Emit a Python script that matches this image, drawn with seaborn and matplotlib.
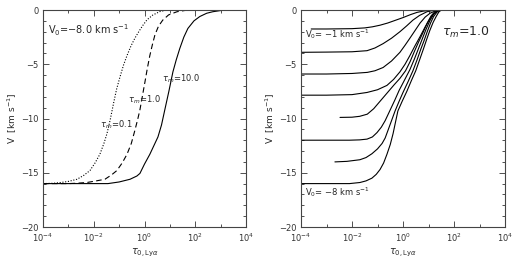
import numpy as np
import pandas as pd
import seaborn as sns
import matplotlib
matplotlib.use('Agg')
import matplotlib.pyplot as plt
from matplotlib import ticker

# LEFT PANEL: V0 = -8 km/s, THREE VALUES OF TAU_M (log10 tau, V)
logt_tm01 = [-4, -3.6, -3.3, -3.0, -2.66, -2.4, -2.15, -1.95, -1.76, -1.6, -1.48, -1.35, -1.22, -1.1,
             -0.97, -0.83, -0.69, -0.53, -0.38, -0.2, -0.06, 0.1, 0.33, 0.6, 0.88, 4]
v_tm01 = [-16.0, -15.97, -15.9, -15.8, -15.6, -15.25, -14.8, -14.1, -13.3, -12.3, -11.4, -10.1, -8.6, -7.3,
          -6.2, -5.1, -4.2, -3.3, -2.6, -1.9, -1.4, -0.9, -0.46, -0.15, 0.0, 0.0]

logt_tm1 = [-4, -3, -2.7, -2.27, -1.9, -1.56, -1.3, -1.09, -0.88, -0.69, -0.52, -0.38, -0.27, -0.18,
            -0.08, 0.02, 0.11, 0.21, 0.31, 0.41, 0.55, 0.72, 0.95, 1.28, 1.6, 1.9, 4]
v_tm1 = [-16.0, -16.0, -15.97, -15.9, -15.75, -15.6, -15.2, -14.8, -14.1, -13.3, -12.3, -11.1, -10.1, -9.2,
         -7.9, -6.6, -5.4, -4.2, -3.2, -2.3, -1.5, -0.93, -0.45, -0.16, -0.04, 0.0, 0.0]

logt_tm10 = [-4, -2, -1.44, -1.0, -0.57, -0.3, -0.18, 0.0, 0.21, 0.37, 0.53, 0.67, 0.8, 0.96, 1.12,
             1.25, 1.39, 1.55, 1.71, 1.95, 2.18, 2.45, 2.69, 3.0, 3.24, 4]
v_tm10 = [-16.0, -16.0, -16.0, -15.85, -15.6, -15.3, -15.06, -14.2, -13.3, -12.5, -11.7, -10.6, -9.2, -7.5, -5.7,
          -4.6, -3.55, -2.5, -1.7, -1.0, -0.6, -0.3, -0.16, -0.05, 0.0, 0.0]

# RIGHT PANEL: TAU_M = 1, V0 = -1 ... -8 km/s
logt_v1 = [-3.6, -3, -2, -1.5, -1.2, -0.9, -0.6, -0.3, 0, 0.3, 0.55, 0.8, 1.06, 1.4, 4]
v_v1 = [-1.75, -1.75, -1.72, -1.65, -1.55, -1.4, -1.2, -0.95, -0.7, -0.42, -0.22, -0.1, -0.03, 0.0, 0.0]

logt_v2 = [-4, -3, -2, -1.41, -1.1, -0.78, -0.45, -0.12, 0.15, 0.39, 0.65, 0.94, 1.2, 1.4, 4]
v_v2 = [-3.9, -3.88, -3.85, -3.75, -3.5, -3.1, -2.6, -2.0, -1.45, -0.93, -0.5, -0.16, -0.03, 0.0, 0.0]

logt_v3 = [-4, -3, -2, -1.4, -1.1, -0.78, -0.45, -0.12, 0.08, 0.27, 0.47, 0.67, 0.87, 1.06, 1.3, 1.45, 4]
v_v3 = [-5.9, -5.9, -5.85, -5.75, -5.6, -5.3, -4.7, -3.9, -3.25, -2.6, -1.9, -1.2, -0.65, -0.3, -0.05, 0.0, 0.0]

logt_v4 = [-4, -3, -2, -1.41, -1.0, -0.63, -0.37, -0.12, 0.08, 0.27, 0.47, 0.67, 0.87, 1.06, 1.2, 1.35, 1.5, 4]
v_v4 = [-7.85, -7.85, -7.8, -7.6, -7.35, -6.95, -6.4, -5.7, -5.0, -4.2, -3.3, -2.45, -1.55, -0.8, -0.35, -0.08,
        0.0, 0.0]

logt_v5 = [-2.47, -2.0, -1.7, -1.4, -1.15, -0.95, -0.75, -0.55, -0.35, -0.12, 0.1, 0.28, 0.45, 0.62, 0.8,
           0.95, 1.1, 1.25, 1.4, 4]
v_v5 = [-9.9, -9.88, -9.8, -9.6, -9.1, -8.55, -8.0, -7.45, -6.9, -6.3, -5.6, -4.75, -3.8, -2.9, -2.0,
        -1.2, -0.55, -0.15, 0.0, 0.0]

logt_v6 = [-4, -3, -2.1, -1.7, -1.41, -1.2, -1.02, -0.85, -0.7, -0.5, -0.32, -0.15, 0.05, 0.27, 0.45, 0.6,
           0.75, 0.9, 1.05, 1.2, 1.35, 1.45, 4]
v_v6 = [-12.0, -12.0, -12.0, -11.97, -11.9, -11.7, -11.3, -10.8, -10.2, -9.2, -8.3, -7.4, -6.5, -5.5, -4.5, -3.6,
        -2.7, -1.8, -1.0, -0.4, -0.1, 0.0, 0.0]

logt_v7 = [-2.67, -2.2, -1.69, -1.45, -1.22, -1.0, -0.82, -0.7, -0.59, -0.45, -0.31, -0.15, 0.0, 0.2, 0.39,
           0.55, 0.7, 0.83, 0.95, 1.08, 1.2, 1.33, 1.45, 4]
v_v7 = [-14.0, -13.95, -13.8, -13.6, -13.25, -12.8, -12.3, -11.8, -11.1, -10.2, -9.3, -8.4, -7.6, -6.6, -5.6,
        -4.6, -3.6, -2.8, -2.0, -1.2, -0.6, -0.2, 0.0, 0.0]

logt_v8 = [-4, -3, -2.1, -1.69, -1.45, -1.22, -1.05, -0.9, -0.76, -0.63, -0.5, -0.39, -0.3, -0.2, -0.03, 0.15,
           0.33, 0.5, 0.65, 0.8, 0.93, 1.05, 1.18, 1.3, 1.4, 1.5, 4]
v_v8 = [-16.0, -16.0, -16.0, -15.9, -15.75, -15.5, -15.15, -14.7, -14.1, -13.3, -12.4, -11.4, -10.4, -9.3, -8.4,
        -7.5, -6.5, -5.6, -4.6, -3.6, -2.7, -1.9, -1.15, -0.6, -0.2, 0.0, 0.0]

# AXIS TICKS
major_xticks = [1e-4, 1e-2, 1e0, 1e2, 1e4]
minor_xticks = [1e-3, 1e-1, 1e1, 1e3]

sns.set_style('ticks')
plt.rcParams['font.family'] = ['DejaVu Sans']
plt.rcParams['mathtext.fontset'] = 'dejavusans'

fig = plt.figure(figsize=(5.18, 2.6), dpi=100)
ax1 = fig.add_axes([43 / 518, 33 / 260, 203 / 518, 217 / 260])
ax2 = fig.add_axes([301 / 518, 33 / 260, 204 / 518, 217 / 260])


def draw(ax, logt, v, ls='-'):
    df = pd.DataFrame({'tau': 10.0 ** np.array(logt), 'v': v})
    sns.lineplot(data=df, x='tau', y='v', ax=ax, color='black', linewidth=0.8,
                 linestyle=ls, estimator=None, sort=False)


draw(ax1, logt_tm01, v_tm01, (0, (1, 1.5)))
draw(ax1, logt_tm1, v_tm1, (0, (5, 3)))
draw(ax1, logt_tm10, v_tm10, '-')

for lt, vv in [(logt_v1, v_v1), (logt_v2, v_v2), (logt_v3, v_v3), (logt_v4, v_v4),
               (logt_v5, v_v5), (logt_v6, v_v6), (logt_v7, v_v7), (logt_v8, v_v8)]:
    draw(ax2, lt, vv)

for ax in [ax1, ax2]:
    ax.set_xscale('log')
    ax.set_xlim(1e-4, 1e4)
    ax.set_ylim(-20, 0)
    ax.xaxis.set_major_locator(ticker.FixedLocator(major_xticks))
    ax.xaxis.set_major_formatter(ticker.LogFormatterSciNotation())
    ax.xaxis.set_minor_locator(ticker.FixedLocator(minor_xticks))
    ax.xaxis.set_minor_formatter(ticker.NullFormatter())
    ax.yaxis.set_major_locator(ticker.MultipleLocator(5))
    ax.yaxis.set_minor_locator(ticker.MultipleLocator(1))
    ax.tick_params(which='both', direction='in', top=True, right=True,
                   labelsize=6, colors='#333333', width=0.6, pad=3)
    ax.tick_params(which='major', length=4)
    ax.tick_params(which='minor', length=2)
    for s in ax.spines.values():
        s.set_linewidth(0.8)
        s.set_color('#444444')
    ax.set_xlabel(r'$\tau_{0,\mathrm{Ly}\alpha}$', fontsize=7, labelpad=2)
    ax.set_ylabel(r'V  [km s$^{-1}$]', fontsize=6.5, labelpad=2)

ax1.text(1.6e-4, -1.85, r'V$_0$=$-$8.0 km s$^{-1}$', fontsize=7, va='center')
ax1.text(5.0, -6.3, r'$\tau_m$=10.0', fontsize=6, va='center')
ax1.text(0.22, -8.3, r'$\tau_m$=1.0', fontsize=6, va='center')
ax1.text(0.018, -10.6, r'$\tau_m$=0.1', fontsize=6, va='center')

ax2.text(1.5e-4, -2.2, r'V$_0$= $-$1 km s$^{-1}$', fontsize=6, va='center')
ax2.text(1.5e-4, -16.8, r'V$_0$= $-$8 km s$^{-1}$', fontsize=6, va='center')
ax2.text(35, -2.1, r'$\tau_m$=1.0', fontsize=9, va='center')

fig.savefig('out.png', dpi=100)
